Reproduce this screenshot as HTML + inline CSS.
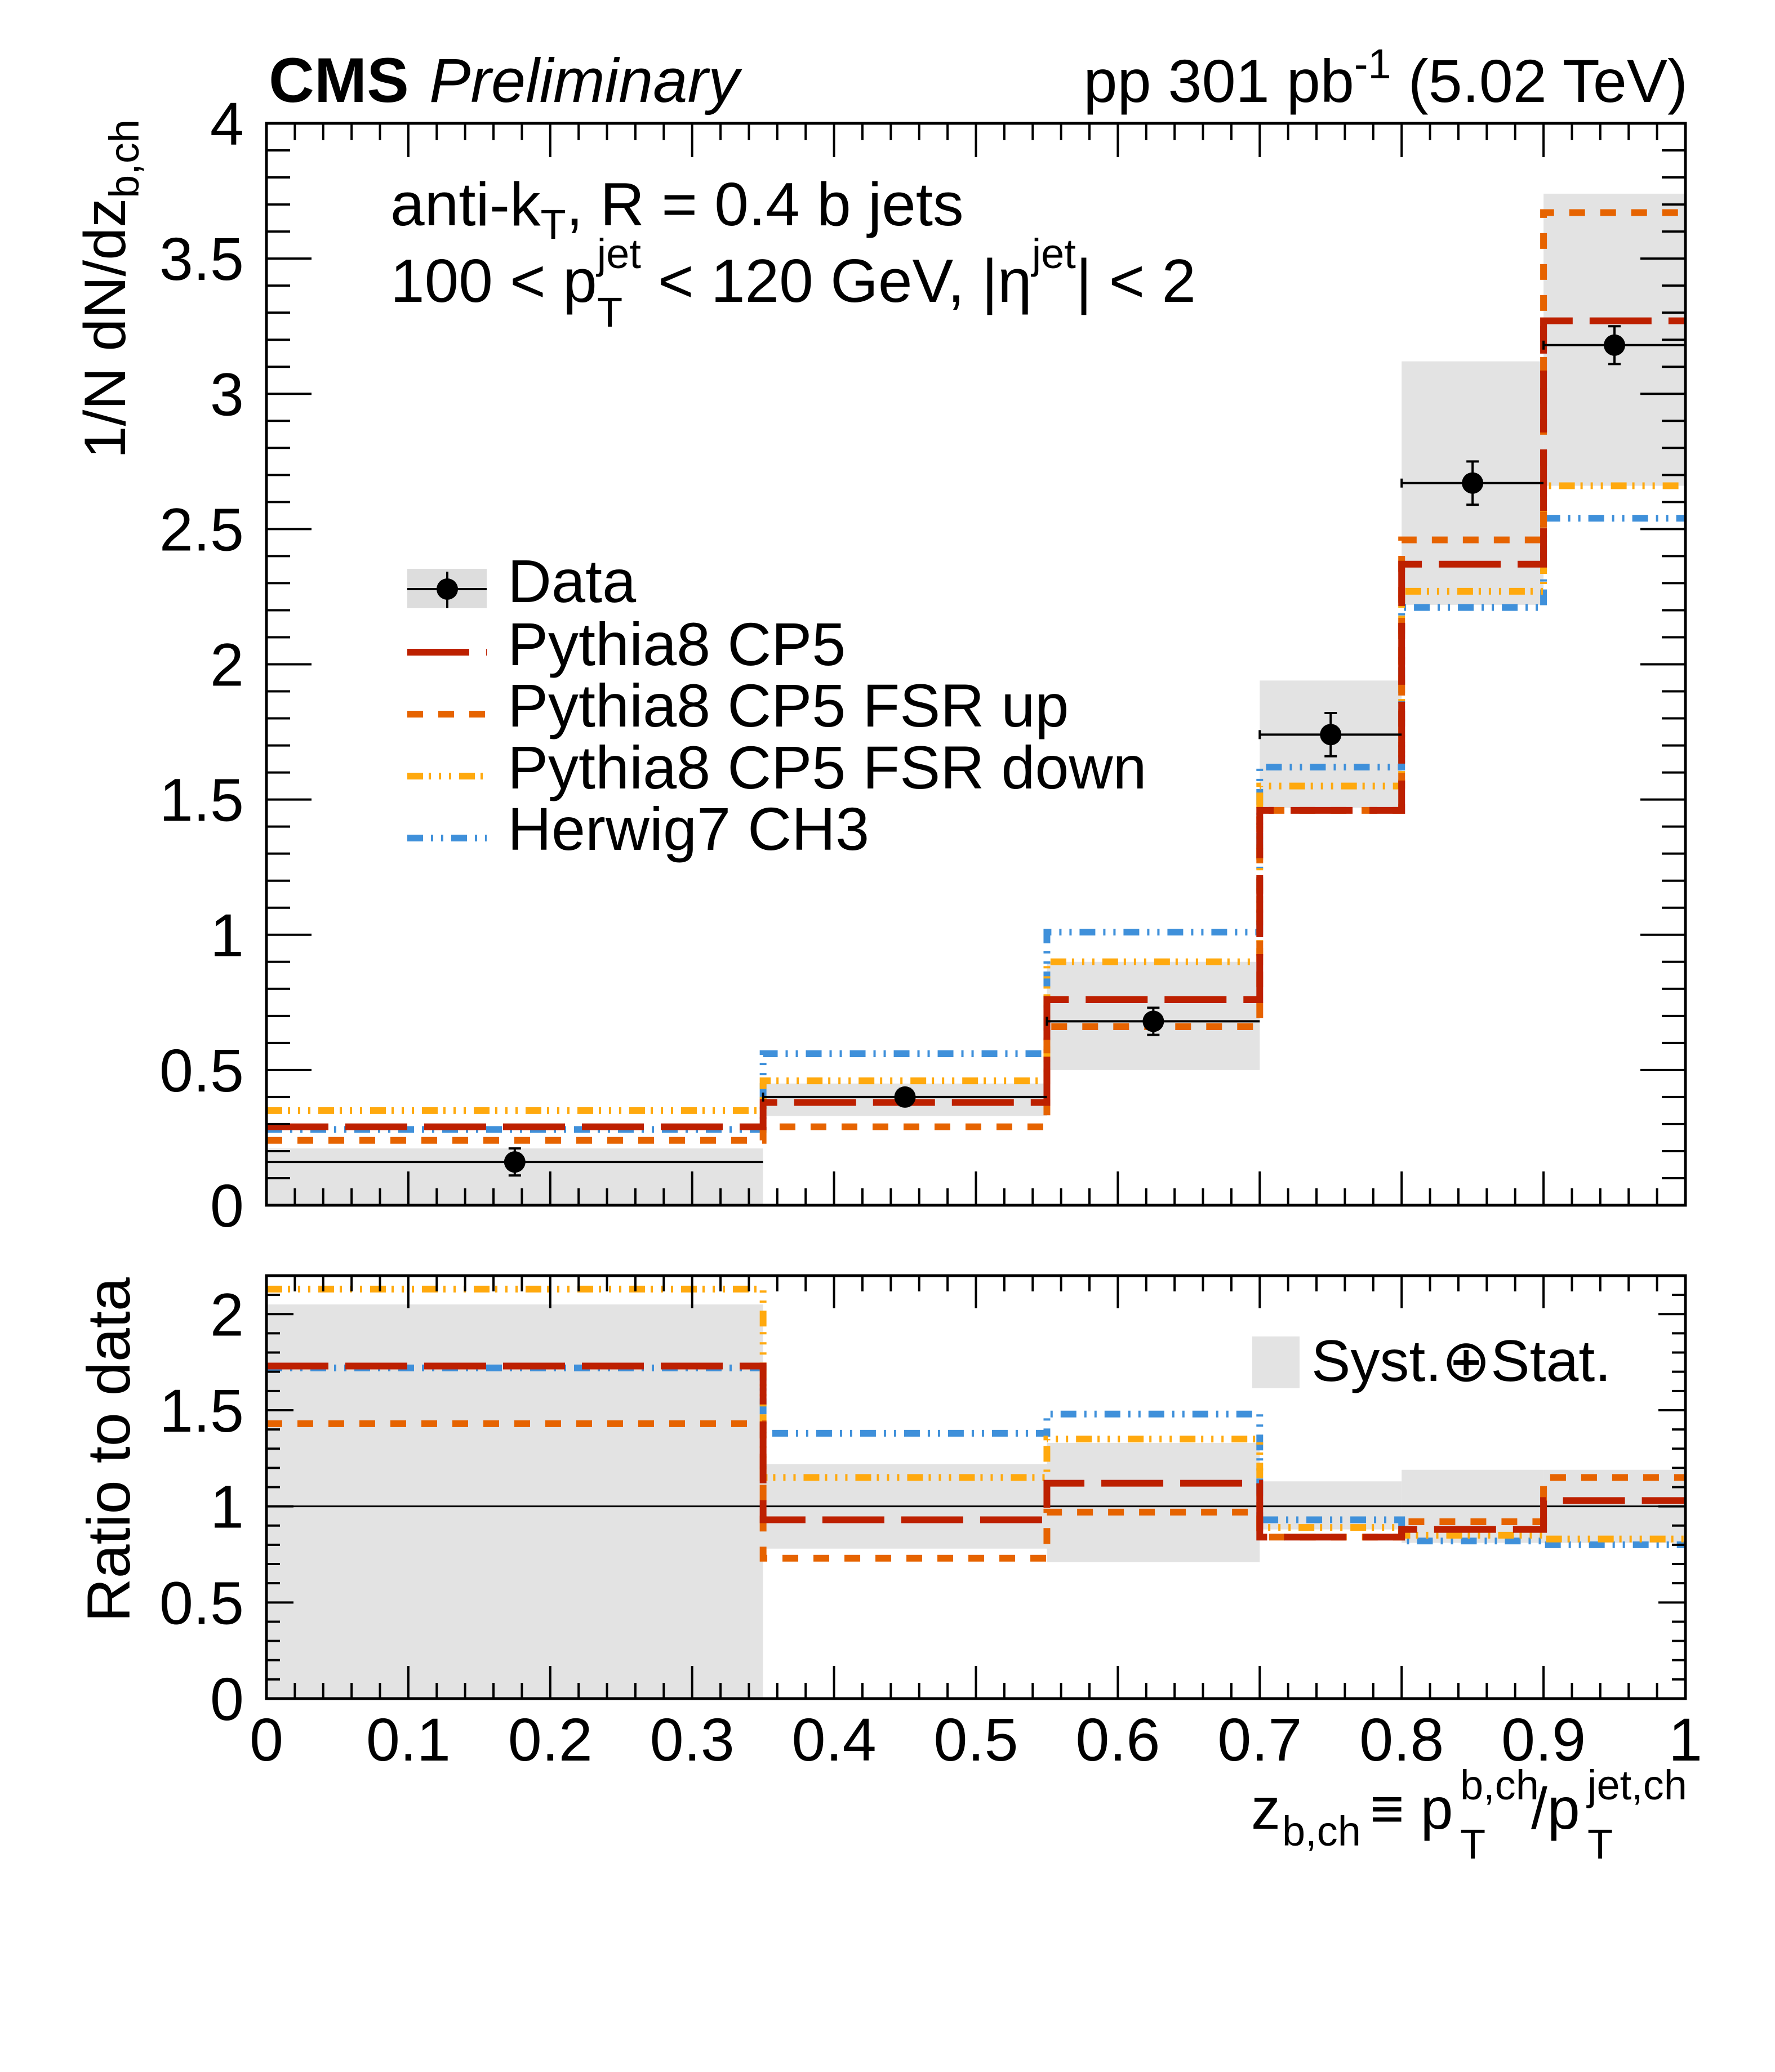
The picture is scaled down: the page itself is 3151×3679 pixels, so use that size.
<!DOCTYPE html>
<html><head><meta charset="utf-8"><style>
html,body{margin:0;padding:0;background:#fff}
svg{display:block}
text{font-family:"Liberation Sans",Arial,sans-serif;fill:#000}
</style></head><body>
<svg id="chart" width="3151" height="3679" viewBox="0 0 3151 3679" xmlns="http://www.w3.org/2000/svg">
<g id="bands"></g><g id="lines"></g><g id="data"></g><g id="axes"></g>
<text x="477" y="181" font-size="112" font-weight="bold">CMS</text>
<text x="762" y="181" font-size="110" font-style="italic">Preliminary</text>
<text x="2996" y="181" font-size="108" text-anchor="end">pp 301 pb<tspan dy="-42" font-size="74">-1</tspan><tspan dy="42"> (5.02 TeV)</tspan></text>
<text x="693" y="400" font-size="109">anti-k<tspan dy="24" font-size="74">T</tspan><tspan dy="-24">, R = 0.4 b jets</tspan></text>
<text y="536" font-size="109"><tspan x="693">100 &lt; p</tspan><tspan dy="-60" font-size="74">jet</tspan><tspan x="1060" dy="104" font-size="74">T</tspan><tspan x="1168" dy="-44">&lt; 120 GeV, |η</tspan><tspan dy="-60" font-size="74">jet</tspan><tspan dy="60">| &lt; 2</tspan></text>
<text transform="translate(222,212) rotate(-90)" font-size="104" text-anchor="end">1/N dN/dz<tspan dy="24" font-size="74">b,ch</tspan></text>
<text transform="translate(230,2268) rotate(-90)" font-size="108" text-anchor="end">Ratio to data</text>
<text font-size="104"><tspan x="2221" y="3247">z</tspan><tspan x="2276" y="3277" font-size="74">b,ch</tspan><tspan x="2432" y="3247">≡ p</tspan><tspan x="2592" y="3195" font-size="74">b,ch</tspan><tspan x="2592" y="3300" font-size="74">T</tspan><tspan x="2718" y="3247">/p</tspan><tspan x="2818" y="3195" font-size="74">jet,ch</tspan><tspan x="2818" y="3300" font-size="74">T</tspan></text>
<g id="legend">
<rect x="723" y="1010" width="141" height="70" fill="#ddd"/>
<line x1="723" y1="1046" x2="864" y2="1046" stroke="#000" stroke-width="4"/>
<line x1="794" y1="1015" x2="794" y2="1080" stroke="#000" stroke-width="4"/>
<circle cx="794" cy="1046" r="19" fill="#000"/>
<text x="901" y="1069" font-size="108">Data</text>
<line x1="723" y1="1158" x2="864" y2="1158" stroke="#bd2000" stroke-width="12" stroke-dasharray="110 30"/>
<text x="901" y="1181" font-size="108">Pythia8 CP5</text>
<line x1="723" y1="1268" x2="864" y2="1268" stroke="#e66300" stroke-width="12" stroke-dasharray="28 27"/>
<text x="901" y="1290" font-size="108">Pythia8 CP5 FSR up</text>
<line x1="723" y1="1378" x2="864" y2="1378" stroke="#ffa90e" stroke-width="12" stroke-dasharray="28 10 4 14 4 14 4 14"/>
<text x="901" y="1400" font-size="108">Pythia8 CP5 FSR down</text>
<line x1="723" y1="1488" x2="864" y2="1488" stroke="#3f90da" stroke-width="12" stroke-dasharray="28 14 4 14 4 14"/>
<text x="901" y="1509" font-size="108">Herwig7 CH3</text>
<rect x="2223" y="2373" width="84" height="92" fill="#e3e3e3"/>
<text x="2328" y="2452" font-size="104">Syst.⊕Stat.</text>
</g>
</svg>
<script>
const edges=[0,0.35,0.55,0.7,0.8,0.9,1.0];
const dataY=[0.16,0.40,0.68,1.74,2.67,3.18];
const dataErr=[0.05,0.03,0.05,0.08,0.08,0.07];
const bandLo=[0.0,0.33,0.50,1.47,2.22,2.66];
const bandHi=[0.21,0.45,0.90,1.94,3.12,3.74];
const cp5=[0.29,0.38,0.76,1.46,2.37,3.27];
const fsrUp=[0.24,0.29,0.66,1.46,2.46,3.67];
const fsrDown=[0.35,0.46,0.90,1.55,2.27,2.66];
const herwig=[0.28,0.56,1.01,1.62,2.21,2.54];
const rBandLo=[0.0,0.78,0.71,0.88,0.81,0.81];
const rBandHi=[2.05,1.22,1.33,1.13,1.19,1.19];
const rCp5=[1.73,0.93,1.12,0.84,0.88,1.03];
const rFsrUp=[1.43,0.73,0.97,0.84,0.92,1.15];
const rFsrDown=[2.13,1.15,1.35,0.89,0.85,0.83];
const rHerwig=[1.72,1.38,1.48,0.93,0.82,0.80];
const yTicksTop=[0,0.5,1,1.5,2,2.5,3,3.5,4];
const yTickLabelsTop=["0","0.5","1","1.5","2","2.5","3","3.5","4"];
const yTicksBot=[0,0.5,1,1.5,2];
const yTickLabelsBot=["0","0.5","1","1.5","2"];
const xTicks=[0,0.1,0.2,0.3,0.4,0.5,0.6,0.7,0.8,0.9,1];
const xTickLabels=["0","0.1","0.2","0.3","0.4","0.5","0.6","0.7","0.8","0.9","1"];

const NS="http://www.w3.org/2000/svg";
const X0=473,X1=2992;
const T0=2140,T1=219,B0=3016,B1=2265;
const x=v=>X0+(X1-X0)*v;
const yT=v=>T0-(T0-T1)*v/4;
const yB=v=>B0-(B0-B1)*v/2.2;
function mk(tag,attrs,parent){const e=document.createElementNS(NS,tag);for(const k in attrs)e.setAttribute(k,attrs[k]);parent.appendChild(e);return e;}
const gB=document.getElementById('bands'),gL=document.getElementById('lines'),gD=document.getElementById('data'),gA=document.getElementById('axes');

function bands(lo,hi,yf,nm){
  for(let i=0;i<lo.length;i++){
    const r=mk('rect',{x:x(edges[i]),y:yf(hi[i]),width:x(edges[i+1])-x(edges[i]),height:yf(lo[i])-yf(hi[i]),fill:'#e3e3e3'},gB);
    
    
  }
}
bands(bandLo,bandHi,yT,'syst');
bands(rBandLo,rBandHi,yB,'ratio-syst');
const ul=mk('line',{x1:X0,x2:X1,y1:yB(1),y2:yB(1),stroke:'#000','stroke-width':3},gB);



const styles={
  'cp5':{c:'#bd2000',d:'110 30'},
  'fsr-up':{c:'#e66300',d:'28 27'},
  'fsr-down':{c:'#ffa90e',d:'28 10 4 14 4 14 4 14'},
  'herwig':{c:'#3f90da',d:'28 14 4 14 4 14'}
};
function hist(vals,yf,key,nm){
  let d='M'+x(edges[0])+' '+yf(vals[0]);
  for(let i=0;i<vals.length;i++){
    if(i>0)d+=' V'+yf(vals[i]);
    d+=' H'+x(edges[i+1]);
  }
  const p=mk('path',{d:d,fill:'none',stroke:styles[key].c,'stroke-width':12,'stroke-dasharray':styles[key].d},gL);
  
  
}
hist(herwig,yT,'herwig','herwig-line');
hist(fsrDown,yT,'fsr-down','fsr-down-line');
hist(fsrUp,yT,'fsr-up','fsr-up-line');
hist(cp5,yT,'cp5','cp5-line');
hist(rHerwig,yB,'herwig','ratio-herwig-line');
hist(rFsrDown,yB,'fsr-down','ratio-fsr-down-line');
hist(rFsrUp,yB,'fsr-up','ratio-fsr-up-line');
hist(rCp5,yB,'cp5','ratio-cp5-line');

for(let i=0;i<dataY.length;i++){
  const cx=x((edges[i]+edges[i+1])/2),cy=yT(dataY[i]);
  const g=mk('g',{},gD);
  
  
  mk('line',{x1:x(edges[i]),x2:x(edges[i+1]),y1:cy,y2:cy,stroke:'#000','stroke-width':4},g);
  mk('line',{x1:x(edges[i]),x2:x(edges[i]),y1:cy-8,y2:cy+8,stroke:'#000','stroke-width':4},g);
  mk('line',{x1:cx,x2:cx,y1:yT(dataY[i]+dataErr[i]),y2:yT(dataY[i]-dataErr[i]),stroke:'#000','stroke-width':4},g);
  mk('line',{x1:cx-11,x2:cx+11,y1:yT(dataY[i]+dataErr[i]),y2:yT(dataY[i]+dataErr[i]),stroke:'#000','stroke-width':4},g);
  mk('line',{x1:cx-11,x2:cx+11,y1:yT(dataY[i]-dataErr[i]),y2:yT(dataY[i]-dataErr[i]),stroke:'#000','stroke-width':4},g);
  mk('circle',{cx:cx,cy:cy,r:19,fill:'#000'},g);
}

function frame(top,bot,yf,major,labels,ymax,minorStep,nm,majL,minL,xmaj,xmin){
  const r=mk('rect',{x:X0,y:top,width:X1-X0,height:bot-top,fill:'none',stroke:'#000','stroke-width':5},gA);
  
  
  let p='';
  for(let v=0;v<=ymax+1e-9;v+=minorStep){
    const isMaj=Math.abs(v/0.5-Math.round(v/0.5))<1e-6;
    const L=isMaj?majL:minL,yy=yf(v);
    p+='M'+X0+' '+yy+' h'+L+' M'+X1+' '+yy+' h'+(-L)+' ';
  }
  for(let k=0;k<=50;k++){
    const v=k*0.02,isMaj=k%5===0,L=isMaj?xmaj:xmin,xx=x(v);
    p+='M'+xx+' '+bot+' v'+(-L)+' M'+xx+' '+top+' v'+L+' ';
  }
  const t=mk('path',{d:p,stroke:'#000','stroke-width':4,fill:'none'},gA);
  
  
  for(let i=0;i<major.length;i++){
    const tx=mk('text',{x:X0-40,y:yf(major[i])+38,'font-size':108,'text-anchor':'end'},gA);
    tx.textContent=labels[i];
    
    
  }
}
frame(T1,T0,yT,yTicksTop,yTickLabelsTop,4,0.1,'main',80,42,60,30);
frame(B1,B0,yB,yTicksBot,yTickLabelsBot,2.2,0.1,'ratio',48,24,58,28);
for(let i=0;i<xTicks.length;i++){
  const tx=mk('text',{x:x(xTicks[i]),y:3126,'font-size':108,'text-anchor':'middle'},gA);
  tx.textContent=xTickLabels[i];
  
  
}
</script>
</body></html>
